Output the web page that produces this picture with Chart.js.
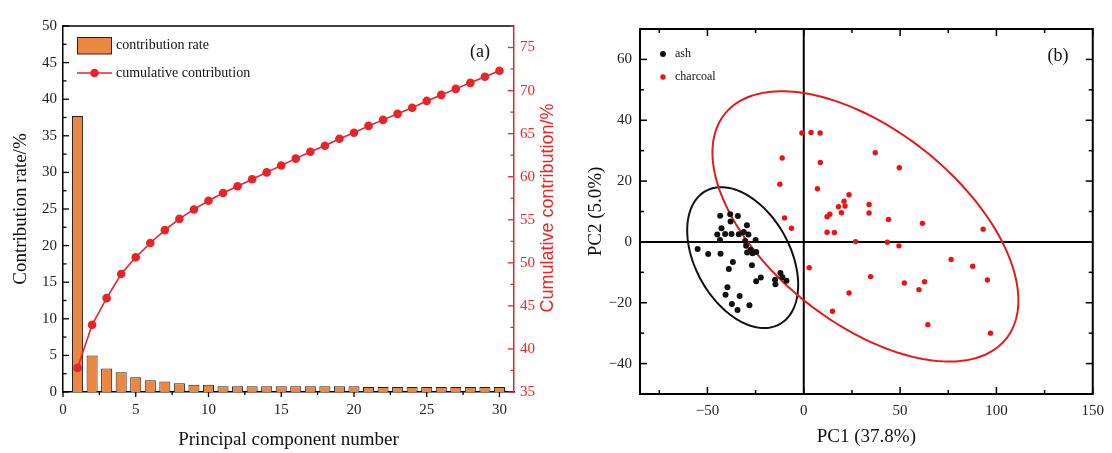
<!DOCTYPE html>
<html><head><meta charset="utf-8">
<script src="https://cdn.jsdelivr.net/npm/chart.js@4.4.0/dist/chart.umd.min.js"></script>
<style>
html,body{margin:0;padding:0;background:#fff;width:1112px;height:453px;overflow:hidden}
#wa{position:absolute;left:0;top:0;width:575px;height:453px}
#wb{position:absolute;left:575px;top:0;width:537px;height:453px}
canvas{display:block}
</style></head><body>
<div id="wa"><canvas id="ca" width="575" height="453"></canvas></div>
<div id="wb"><canvas id="cb" width="537" height="453"></canvas></div>
<script>
// ---------- Panel (a) data ----------
const components = [1,2,3,4,5,6,7,8,9,10,11,12,13,14,15,16,17,18,19,20,21,22,23,24,25,26,27,28,29,30];
const contributionRate = [37.7,5.0,3.2,2.7,2.0,1.6,1.45,1.2,1.0,1.0,0.78,0.78,0.78,0.78,0.78,0.78,0.78,0.78,0.78,0.78,0.68,0.68,0.68,0.68,0.68,0.68,0.68,0.68,0.68,0.68];
const cumulativeContribution = [37.8,42.8,45.9,48.7,50.65,52.3,53.8,55.1,56.2,57.2,58.1,58.9,59.7,60.5,61.3,62.1,62.9,63.6,64.4,65.1,65.9,66.6,67.3,68.0,68.8,69.5,70.2,70.9,71.6,72.3];
const xTicksA = [0,5,10,15,20,25,30];
const xMinorA = [2.5,7.5,12.5,17.5,22.5,27.5];
const yTicksA = [0,5,10,15,20,25,30,35,40,45,50];
const yMinorA = [2.5,7.5,12.5,17.5,22.5,27.5,32.5,37.5,42.5,47.5];
const y2TicksA = [35,40,45,50,55,60,65,70,75];
const y2MinorA = [37.5,42.5,47.5,52.5,57.5,62.5,67.5,72.5,77.5];

// ---------- Panel (b) data ----------
const ashPC1 = [-43.4,-38.2,-34.2,-38.0,-42.7,-29.5,-44.9,-40.8,-37.5,-33.7,-31.1,-28.7,-43.5,-30.4,-25.0,-29.9,-55.1,-49.6,-43.2,-27.6,-29.4,-26.6,-24.7,-36.8,-38.9,-26.9,-24.7,-22.3,-39.6,-40.6,-33.3,-37.3,-34.4,-28.2,-14.9,-12.1,-14.7,-11.1,-9.0];
const ashPC2 = [8.6,9.1,8.5,6.7,4.5,5.5,2.4,2.6,2.6,2.5,3.3,2.4,0.6,0.3,0.6,-1.3,-2.3,-4.0,-3.9,-2.6,-3.5,-3.7,-3.3,-6.6,-8.9,-7.7,-12.9,-11.7,-14.9,-17.4,-17.8,-20.4,-22.4,-20.8,-12.4,-10.2,-13.9,-11.6,-12.8];
const charcoalPC1 = [-1.0,3.8,8.5,-11.2,37.1,8.6,49.6,-12.4,7.1,23.5,20.9,18.0,21.4,19.5,33.9,33.9,13.5,12.1,-10.0,44.0,-6.4,12.1,15.9,26.9,43.4,49.4,2.8,34.7,52.2,23.5,14.9,61.6,93.1,76.5,87.7,95.3,62.7,59.8,64.4,96.9];
const charcoalPC2 = [35.8,36.0,35.8,27.6,29.3,26.1,24.4,19.0,17.5,15.5,13.4,11.6,11.8,9.6,12.3,9.5,9.1,8.3,7.9,7.4,4.5,3.2,3.1,0.1,-0.1,-1.3,-8.5,-11.4,-13.5,-16.8,-22.8,6.1,4.2,-5.8,-8.0,-12.5,-13.1,-15.7,-27.2,-30.0];
// confidence ellipses: centre (cx,cy); x = cx + ax*cos t ; y = cy + c*cos t + d*sin t
const ashEllipse = [-31.7,-5.15,28.8,-8.96,21.35];
const charcoalEllipse = [32.0,5.1,79.4,-24.3,37.2];
const xTicksB = [-50,0,50,100,150];
const xMinorB = [-75,-25,25,75,125];
const yTicksB = [-40,-20,0,20,40,60];
const yMinorB = [-50,-30,-10,10,30,50,70];

const SERIF = '"Liberation Serif","Times New Roman",serif';
const SANS = '"Liberation Sans",Arial,sans-serif';
const RED = '#EE2424';
Chart.defaults.font.family = SERIF;

function seg(ctx,x1,y1,x2,y2,color,w){ctx.beginPath();ctx.strokeStyle=color;ctx.lineWidth=w;ctx.moveTo(x1,y1);ctx.lineTo(x2,y2);ctx.stroke();}
function txt(ctx,s,x,y,font,color,align,rot){ctx.save();ctx.translate(x,y);if(rot)ctx.rotate(rot);ctx.font=font;ctx.fillStyle=color;ctx.textAlign=align||'center';ctx.textBaseline='middle';ctx.fillText(s,0,0);ctx.restore();}
const setTicks = arr => s => { s.ticks = arr.map(v=>({value:v})); };

// ---------- Chart (a) ----------
const pluginA = {
  id:'decoA',
  afterDraw(chart){
    const ctx=chart.ctx, ca=chart.chartArea, sx=chart.scales.x, sy=chart.scales.y, sy2=chart.scales.y2;
    ctx.save();
    seg(ctx,ca.left-0.75,ca.top,ca.right,ca.top,'#000',1.5);
    xTicksA.forEach(v=>{const p=sx.getPixelForValue(v);seg(ctx,p,ca.bottom,p,ca.bottom+5,'#000',1.3);});
    xMinorA.forEach(v=>{const p=sx.getPixelForValue(v);seg(ctx,p,ca.bottom,p,ca.bottom+3,'#000',1.3);});
    yTicksA.forEach(v=>{const p=sy.getPixelForValue(v);seg(ctx,ca.left,p,ca.left+6,p,'#000',1.3);});
    yMinorA.forEach(v=>{const p=sy.getPixelForValue(v);seg(ctx,ca.left,p,ca.left+3.5,p,'#000',1.3);});
    y2TicksA.forEach(v=>{const p=sy2.getPixelForValue(v);seg(ctx,ca.right,p,ca.right-6,p,RED,1.3);});
    y2MinorA.forEach(v=>{const p=sy2.getPixelForValue(v);seg(ctx,ca.right,p,ca.right-3.5,p,RED,1.3);});
    // legend
    ctx.fillStyle='#EC8741';ctx.fillRect(77.5,37.5,34,16.5);
    ctx.strokeStyle='#222';ctx.lineWidth=1;ctx.strokeRect(77.5,37.5,34,16.5);
    txt(ctx,'contribution rate',116,45.5,'14px '+SERIF,'#111','left');
    seg(ctx,77,73,112,73,'#E8232A',1.6);
    ctx.beginPath();ctx.fillStyle='#E8232A';ctx.arc(94.5,73,4.3,0,Math.PI*2);ctx.fill();
    txt(ctx,'cumulative contribution',116,73,'14px '+SERIF,'#111','left');
    txt(ctx,'(a)',480,52,'18px '+SERIF,'#111','center');
    // titles
    txt(ctx,'Contribution rate/%',21,(ca.top+ca.bottom)/2,'19px '+SERIF,'#111','center',-Math.PI/2);
    txt(ctx,'Principal component number',(ca.left+ca.right)/2,440,'19px '+SERIF,'#111','center');
    txt(ctx,'Cumulative contribution/%',548,208,'18px '+SANS,RED,'center',-Math.PI/2);
    ctx.restore();
  }
};

new Chart(document.getElementById('ca'),{
  data:{
    datasets:[
      {type:'line',label:'cumulative contribution',yAxisID:'y2',order:0,
       data:components.map((c,i)=>({x:c,y:cumulativeContribution[i]})),
       borderColor:'#E8232A',backgroundColor:'#E8232A',borderWidth:1.6,pointRadius:4.3,pointBorderWidth:0,tension:0},
      {type:'bar',label:'contribution rate',yAxisID:'y',order:1,
       data:components.map((c,i)=>({x:c,y:contributionRate[i]})),
       backgroundColor:'#EC8741',borderColor:'#222',borderWidth:1,barPercentage:0.76,categoryPercentage:1}
    ]
  },
  options:{
    responsive:false,animation:false,devicePixelRatio:1,
    layout:{padding:{top:26,left:0,right:0,bottom:0}},
    plugins:{legend:{display:false},tooltip:{enabled:false}},
    scales:{
      x:{type:'linear',min:0,max:31,offset:false,afterBuildTicks:setTicks(xTicksA),afterFit:s=>{s.height=61;},
         grid:{display:false,drawTicks:false},border:{display:true,color:'#000',width:1.5},
         ticks:{padding:9,autoSkip:false,maxRotation:0,color:'#222',font:{size:15,family:SERIF}}},
      y:{type:'linear',position:'left',min:0,max:50,afterBuildTicks:setTicks(yTicksA),afterFit:s=>{s.width=63;},
         grid:{display:false,drawTicks:false},border:{display:true,color:'#000',width:1.5},
         ticks:{padding:6,color:'#222',font:{size:15,family:SERIF}}},
      y2:{type:'linear',position:'right',min:35,max:77.5,afterBuildTicks:setTicks(y2TicksA),afterFit:s=>{s.width=61;},
         grid:{display:false,drawTicks:false},border:{display:true,color:RED,width:1.5},
         ticks:{padding:6,color:RED,font:{size:15,family:SERIF}}}
    }
  },
  plugins:[pluginA]
});

// ---------- Chart (b) ----------
function drawEllipse(chart,p,color){
  const ctx=chart.ctx, sx=chart.scales.x, sy=chart.scales.y;
  ctx.beginPath();
  for(let k=0;k<=180;k++){
    const t=k/180*Math.PI*2;
    const X=sx.getPixelForValue(p[0]+p[2]*Math.cos(t));
    const Y=sy.getPixelForValue(p[1]+p[3]*Math.cos(t)+p[4]*Math.sin(t));
    if(k===0)ctx.moveTo(X,Y);else ctx.lineTo(X,Y);
  }
  ctx.closePath();ctx.strokeStyle=color;ctx.lineWidth=2;ctx.stroke();
}
const pluginB = {
  id:'decoB',
  beforeDatasetsDraw(chart){
    const ctx=chart.ctx, ca=chart.chartArea, sx=chart.scales.x, sy=chart.scales.y;
    ctx.save();
    const x0=sx.getPixelForValue(0), y0=sy.getPixelForValue(0);
    seg(ctx,x0,ca.top,x0,ca.bottom,'#000',2);
    seg(ctx,ca.left,y0,ca.right,y0,'#000',2);
    drawEllipse(chart,ashEllipse,'#111');
    drawEllipse(chart,charcoalEllipse,'#E51A1A');
    ctx.restore();
  },
  afterDraw(chart){
    const ctx=chart.ctx, ca=chart.chartArea, sx=chart.scales.x, sy=chart.scales.y;
    ctx.save();
    ctx.strokeStyle='#000';ctx.lineWidth=2;ctx.strokeRect(ca.left,ca.top,ca.right-ca.left,ca.bottom-ca.top);
    xTicksB.forEach(v=>{const p=sx.getPixelForValue(v);seg(ctx,p,ca.bottom,p,ca.bottom-7,'#000',1.5);seg(ctx,p,ca.top,p,ca.top+7,'#000',1.5);});
    xMinorB.forEach(v=>{const p=sx.getPixelForValue(v);seg(ctx,p,ca.bottom,p,ca.bottom-4,'#000',1.5);seg(ctx,p,ca.top,p,ca.top+4,'#000',1.5);});
    yTicksB.forEach(v=>{const p=sy.getPixelForValue(v);seg(ctx,ca.left,p,ca.left+7,p,'#000',1.5);seg(ctx,ca.right,p,ca.right-7,p,'#000',1.5);});
    yMinorB.forEach(v=>{const p=sy.getPixelForValue(v);seg(ctx,ca.left,p,ca.left+4,p,'#000',1.5);seg(ctx,ca.right,p,ca.right-4,p,'#000',1.5);});
    // legend
    ctx.beginPath();ctx.fillStyle='#111';ctx.arc(88,54,3,0,Math.PI*2);ctx.fill();
    txt(ctx,'ash',100,54,'12px '+SERIF,'#111','left');
    ctx.beginPath();ctx.fillStyle='#EE1111';ctx.arc(88,77,2.7,0,Math.PI*2);ctx.fill();
    txt(ctx,'charcoal',100,77,'12px '+SERIF,'#111','left');
    txt(ctx,'(b)',483,56,'18px '+SERIF,'#111','center');
    // titles
    txt(ctx,'PC2 (5.0%)',21,(ca.top+ca.bottom)/2,'19px '+SERIF,'#111','center',-Math.PI/2);
    txt(ctx,'PC1 (37.8%)',(ca.left+ca.right)/2,437,'19px '+SERIF,'#111','center');
    ctx.restore();
  }
};
const fmtMinus = v => v<0 ? '\u2212'+Math.abs(v) : String(v);
new Chart(document.getElementById('cb'),{
  type:'scatter',
  data:{datasets:[
    {label:'ash',data:ashPC1.map((x,i)=>({x:x,y:ashPC2[i]})),backgroundColor:'#111',borderColor:'#111',pointRadius:3,pointBorderWidth:0},
    {label:'charcoal',data:charcoalPC1.map((x,i)=>({x:x,y:charcoalPC2[i]})),backgroundColor:'#EE1111',borderColor:'#EE1111',pointRadius:2.7,pointBorderWidth:0}
  ]},
  options:{
    responsive:false,animation:false,devicePixelRatio:1,
    layout:{padding:{top:29,left:0,right:17,bottom:0}},
    plugins:{legend:{display:false},tooltip:{enabled:false}},
    scales:{
      x:{type:'linear',min:-85,max:150,afterBuildTicks:setTicks(xTicksB),afterFit:s=>{s.height=59;},
         grid:{display:false,drawTicks:false},border:{display:false},
         ticks:{padding:8,autoSkip:false,maxRotation:0,color:'#222',font:{size:15,family:SERIF},callback:fmtMinus}},
      y:{type:'linear',min:-50,max:70,afterBuildTicks:setTicks(yTicksB),afterFit:s=>{s.width=65;},
         grid:{display:false,drawTicks:false},border:{display:false},
         ticks:{padding:8,color:'#222',font:{size:15,family:SERIF},callback:fmtMinus}}
    }
  },
  plugins:[pluginB]
});
</script>
</body></html>
